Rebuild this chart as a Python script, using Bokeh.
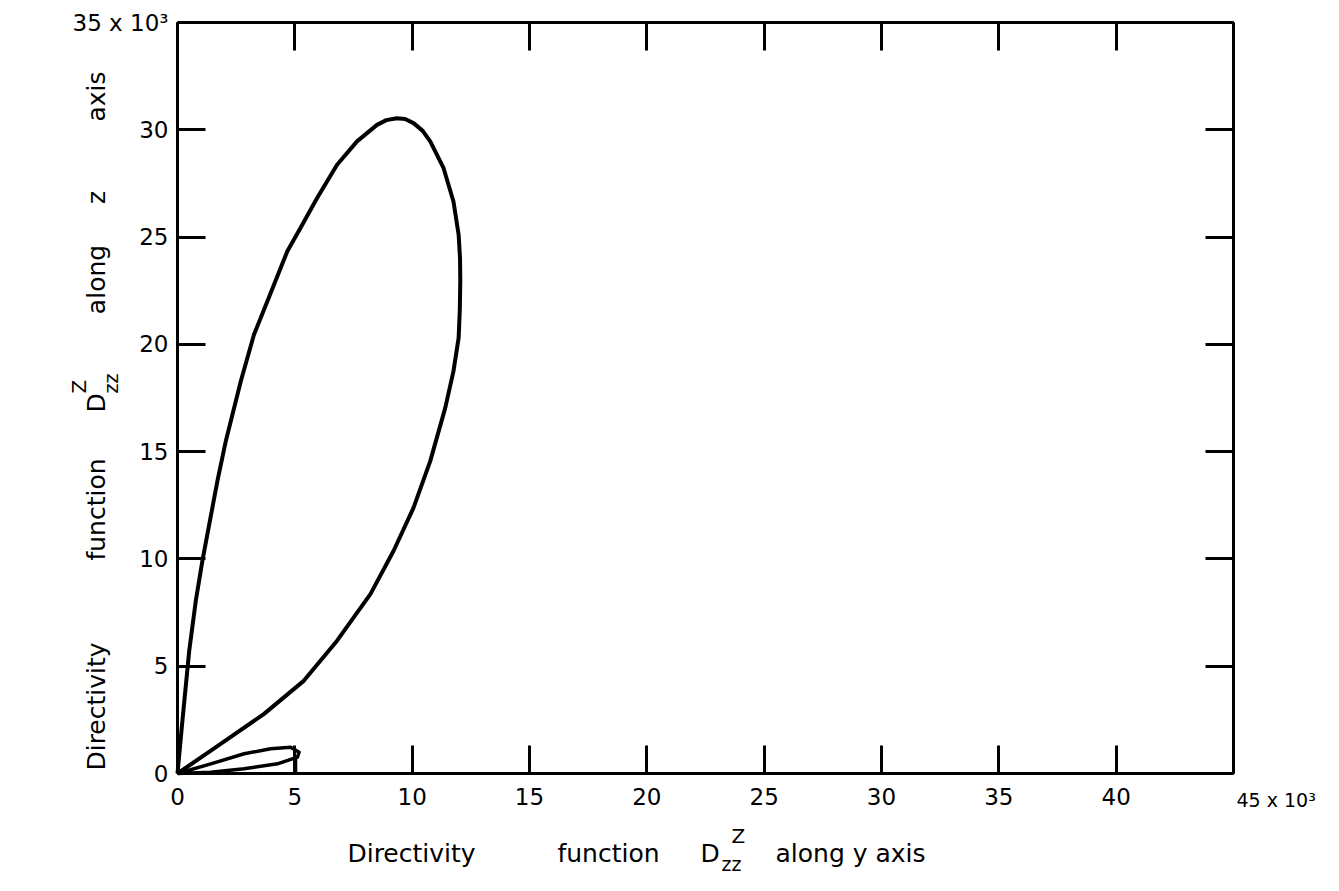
import math
from bokeh.plotting import figure
from bokeh.models import LinearAxis, FixedTicker, Label, Range1d
from bokeh.embed import file_html
from bokeh.resources import INLINE

# ---- data (units of 10^3) ----
x_ticks = [0, 5, 10, 15, 20, 25, 30, 35, 40, 45]
y_ticks = [0, 5, 10, 15, 20, 25, 30, 35]

main_lobe_x = [0, 0.21, 0.50, 0.78, 1.06, 1.70, 2.06, 2.70, 3.26, 3.83, 4.68, 5.24, 5.95,
               6.80, 7.65, 8.50, 8.90, 9.35, 9.70, 10.06, 10.45, 10.77, 11.34, 11.76, 11.98,
               12.04, 12.05, 12.03, 11.98, 11.76, 11.41, 10.77, 10.06, 9.21, 8.22, 6.80,
               5.39, 3.69, 1.84, 0]
main_lobe_y = [0, 2.47, 5.72, 8.05, 9.91, 13.63, 15.50, 18.29, 20.46, 22.01, 24.34, 25.42, 26.82,
               28.37, 29.46, 30.23, 30.45, 30.54, 30.50, 30.31, 29.95, 29.46, 28.21, 26.66, 25.11,
               24.00, 22.94, 21.60, 20.30, 18.75, 17.04, 14.56, 12.39, 10.38, 8.36, 6.19,
               4.33, 2.78, 1.38, 0]

small_lobe_x = [0, 1.42, 2.84, 3.97, 4.82, 5.18, 5.11, 4.26, 2.84, 1.41, 0]
small_lobe_y = [0, 0.45, 0.92, 1.15, 1.22, 0.99, 0.76, 0.45, 0.22, 0.06, 0]

drop_x = [5.03, 5.03]
drop_y = [0.72, 0]

FONT = "DejaVu Sans"
W, H = 1323, 875
# axis box position in page pixels
AL, AR, AT, AB = 177, 1233, 22, 773
XMAX, YMAX = 45.0, 35.0
SX = XMAX / (AR - AL)
SY = YMAX / (AB - AT)

p = figure(width=W, height=H,
           x_range=Range1d(-AL * SX, (W - AL) * SX),
           y_range=Range1d((AB - H) * SY, AB * SY),
           output_backend="svg", toolbar_location=None,
           min_border=0, x_axis_location=None, y_axis_location=None)
p.grid.visible = False
p.outline_line_color = None
p.background_fill_color = "white"
p.border_fill_color = "white"

ax_below = LinearAxis(fixed_location=0, bounds=(0, XMAX), ticker=FixedTicker(ticks=x_ticks))
ax_above = LinearAxis(fixed_location=YMAX, bounds=(0, XMAX), ticker=FixedTicker(ticks=x_ticks))
ax_left = LinearAxis(fixed_location=0, bounds=(0, YMAX), ticker=FixedTicker(ticks=y_ticks))
ax_right = LinearAxis(fixed_location=XMAX, bounds=(0, YMAX), ticker=FixedTicker(ticks=y_ticks))
p.add_layout(ax_below, "below")
p.add_layout(ax_above, "above")
p.add_layout(ax_left, "left")
p.add_layout(ax_right, "right")

for ax in (ax_below, ax_above, ax_left, ax_right):
    ax.major_tick_in = 28
    ax.major_tick_out = 0
    ax.minor_tick_line_color = None
    ax.axis_line_width = 3
    ax.major_tick_line_width = 3
    ax.axis_line_color = "black"
    ax.major_tick_line_color = "black"
    ax.major_label_text_font = FONT
    ax.major_label_text_font_size = "23px"
    ax.major_label_text_color = "black"

ax_above.major_label_text_color = None
ax_right.major_label_text_color = None
ax_below.major_label_overrides = {45: ""}
ax_below.major_label_standoff = 14
ax_left.major_label_overrides = {35: "35 x 10³"}
ax_left.major_label_standoff = 9

p.line(main_lobe_x, main_lobe_y, line_color="black", line_width=4, line_join="round")
p.line(small_lobe_x, small_lobe_y, line_color="black", line_width=3.5, line_join="round")
p.line(drop_x, drop_y, line_color="black", line_width=3.5)

# helpers: reference page-pixel positions -> data coordinates (for text placement only)
def dx(px):
    return (px - AL) * SX

def dy(py):
    return (AB - py) * SY

def txt(s, px, py, size=25, angle=0.0, align="left"):
    p.add_layout(Label(x=dx(px), y=dy(py), text=s, text_font=FONT, text_font_size=f"{size}px",
                       text_align=align, text_baseline="middle", angle=angle,
                       text_color="black"))

# x-end multiplier label
txt("45 x 10³", 1236, 799, 19)

# x-axis title
txt("Directivity", 411, 853, align="center")
txt("function", 608, 853, align="center")
txt("D", 700, 853)
txt("Z", 731, 835, 20)
txt("zz", 721, 863, 19)
txt("along y axis", 850, 853, align="center")

# y-axis title (rotated)
r = math.pi / 2
txt("Directivity", 96, 706, angle=r, align="center")
txt("function", 96, 509, angle=r, align="center")
txt("D", 96, 412, angle=r)
txt("Z", 78, 393, 20, angle=r)
txt("zz", 110, 393, 19, angle=r)
txt("along", 96, 279, angle=r, align="center")
txt("z", 96, 197, angle=r, align="center")
txt("axis", 96, 96, angle=r, align="center")

open("out.html", "w").write(file_html(p, INLINE))
